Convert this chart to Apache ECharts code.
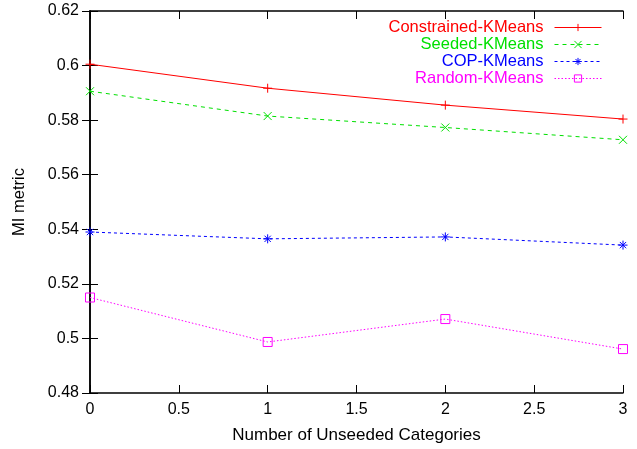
<!DOCTYPE html>
<html>
<head>
<meta charset="utf-8">
<script src="https://cdn.jsdelivr.net/npm/echarts@6/dist/echarts.min.js"></script>
<style>
  html, body { margin: 0; padding: 0; background: #fff; }
  #chart { width: 637px; height: 449px; }
</style>
</head>
<body>
<div id="chart"></div>
<script>
// number of unseeded categories
var xValues = [0, 1, 2, 3];

// MI metric per method
var constrainedKMeans = [0.6005, 0.5917, 0.5855, 0.5804];
var seededKMeans = [0.5906, 0.5815, 0.5773, 0.5728];
var copKMeans = [0.5390, 0.5365, 0.5372, 0.5342];
var randomKMeans = [0.5150, 0.4987, 0.5071, 0.4961];

var seriesNames = ['Constrained-KMeans', 'Seeded-KMeans', 'COP-KMeans', 'Random-KMeans'];
var seriesColors = ['#ff0000', '#00e000', '#0000ff', '#ff00ff'];

var font = 'Liberation Sans, Arial, Helvetica, sans-serif';

function pairs(ys) {
  return xValues.map(function (x, i) { return [x, ys[i]]; });
}

var symPlus = 'path://M5,0L5,10M0,5L10,5';
var symCross = 'path://M0,0L10,10M0,10L10,0';
var symStar = 'path://M5,0L5,10M0,5L10,5M1.5,1.5L8.5,8.5M1.5,8.5L8.5,1.5';
var symSquare = 'path://M0,0L10,0L10,10L0,10Z';

function makeSeries(idx, ys, symbol, size, lineType) {
  return {
    name: seriesNames[idx],
    type: 'line',
    data: pairs(ys),
    symbol: symbol,
    symbolSize: size,
    showSymbol: true,
    animation: false,
    lineStyle: { color: seriesColors[idx], width: 1, type: lineType },
    itemStyle: { color: 'rgba(0,0,0,0)', borderColor: seriesColors[idx], borderWidth: 1 }
  };
}

var chart = echarts.init(document.getElementById('chart'));

var option = {
  backgroundColor: '#fff',
  animation: false,
  textStyle: { fontFamily: font },
  grid: { left: 90, right: 14, top: 11, bottom: 56 },
  legend: {
    orient: 'vertical',
    right: 30,
    top: 14,
    align: 'right',
    itemWidth: 47,
    itemHeight: 9,
    itemGap: 0,
    selectedMode: false,
    lineStyle: { width: 1 },
    itemStyle: { borderWidth: 1 },
    textStyle: { fontSize: 16.5, lineHeight: 17, fontFamily: font, padding: [0, 6, 0, 0] },
    data: seriesNames.map(function (n, i) {
      return { name: n, textStyle: { color: seriesColors[i] } };
    })
  },
  xAxis: [{
    type: 'value',
    min: 0,
    max: 3,
    interval: 0.5,
    name: 'Number of Unseeded Categories',
    nameLocation: 'middle',
    nameGap: 34,
    nameTextStyle: { color: '#000', fontSize: 17, fontFamily: font },
    axisLine: { lineStyle: { color: '#000', width: 1.5 } },
    axisTick: { inside: true, length: 8, lineStyle: { color: '#000' } },
    axisLabel: { color: '#000', fontSize: 16, margin: 9, fontFamily: font },
    splitLine: { show: false }
  }, {
    type: 'value',
    position: 'top',
    min: 0,
    max: 3,
    interval: 0.5,
    axisLine: { lineStyle: { color: '#000', width: 1.5 } },
    axisTick: { inside: true, length: 8, lineStyle: { color: '#000' } },
    axisLabel: { show: false },
    splitLine: { show: false }
  }],
  yAxis: [{
    type: 'value',
    min: 0.48,
    max: 0.62,
    interval: 0.02,
    name: 'MI metric',
    nameLocation: 'middle',
    nameGap: 62,
    nameRotate: 90,
    nameTextStyle: { color: '#000', fontSize: 16.5, fontFamily: font },
    axisLine: { show: true, lineStyle: { color: '#000', width: 1.5 } },
    axisTick: { show: true, inside: true, length: 8, lineStyle: { color: '#000' } },
    axisLabel: { color: '#000', fontSize: 16, margin: 11, fontFamily: font },
    splitLine: { show: false }
  }, {
    type: 'value',
    position: 'right',
    min: 0.48,
    max: 0.62,
    interval: 0.02,
    axisLine: { show: true, lineStyle: { color: '#000', width: 1.5 } },
    axisTick: { show: true, inside: true, length: 8, lineStyle: { color: '#000' } },
    axisLabel: { show: false },
    splitLine: { show: false }
  }],
  series: [
    makeSeries(0, constrainedKMeans, symPlus, 9, 'solid'),
    makeSeries(1, seededKMeans, symCross, 8, [4, 4]),
    makeSeries(2, copKMeans, symStar, 9, [3, 3]),
    makeSeries(3, randomKMeans, symSquare, 9, [1.5, 2])
  ]
};

chart.setOption(option);
</script>
</body>
</html>
